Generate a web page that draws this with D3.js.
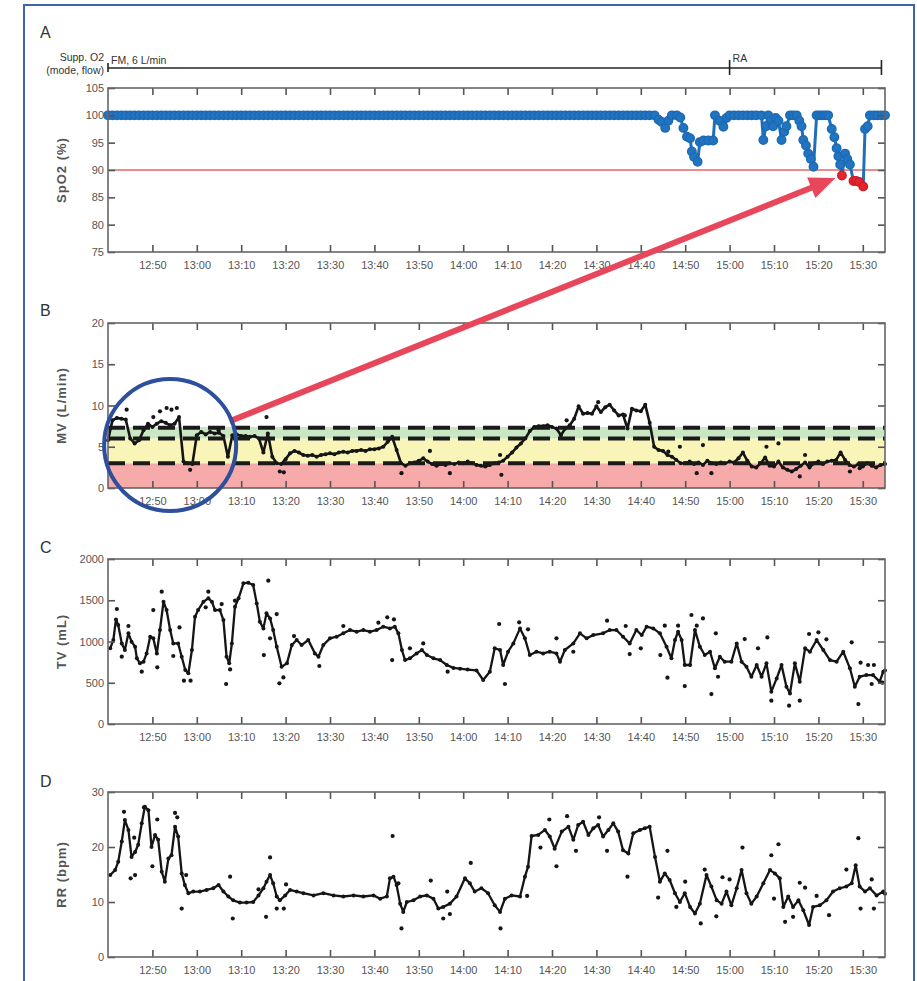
<!DOCTYPE html>
<html lang="en">
<head>
<meta charset="utf-8">
<title>SpO2 / MV / TV / RR</title>
<script src="https://d3js.org/d3.v7.min.js"></script>
<style>
  body { margin: 0; background: #fff; }
  svg { display: block; font-family: "Liberation Sans", Arial, sans-serif; }
  .frame { fill: none; stroke: #666; stroke-width: 1.6px; }
  .axis path { display: none; }
  .axis line { stroke: #555; stroke-width: 1.6px; }
  .axis text { fill: #555; font-size: 11px; }
  .ylab { fill: #555; font-weight: bold; font-size: 13px; letter-spacing: 1px; }
  .letter { fill: #333; font-size: 16px; }
  .o2 { fill: #333; font-size: 10.5px; }
</style>
</head>
<body>
<div id="chart"></div>
<script>

// ---------------------------//
//   DATA (minutes after 12:40)
// ---------------------------//

// supplemental O2 periods
var o2Modes = ["FM, 6 L/min", "RA"];
var o2Starts = [0, 140];
var o2End = 174.2;

// SpO2 readings [minute, %]
var spo2 = [
  [0,100],[1,100],[2,100],[3,100],[4,100],[5,100],[6,100],[7,100],[8,100],[9,100],
  [10,100],[11,100],[12,100],[13,100],[14,100],[15,100],[16,100],[17,100],[18,100],[19,100],
  [20,100],[21,100],[22,100],[23,100],[24,100],[25,100],[26,100],[27,100],[28,100],[29,100],
  [30,100],[31,100],[32,100],[33,100],[34,100],[35,100],[36,100],[37,100],[38,100],[39,100],
  [40,100],[41,100],[42,100],[43,100],[44,100],[45,100],[46,100],[47,100],[48,100],[49,100],
  [50,100],[51,100],[52,100],[53,100],[54,100],[55,100],[56,100],[57,100],[58,100],[59,100],
  [60,100],[61,100],[62,100],[63,100],[64,100],[65,100],[66,100],[67,100],[68,100],[69,100],
  [70,100],[71,100],[72,100],[73,100],[74,100],[75,100],[76,100],[77,100],[78,100],[79,100],
  [80,100],[81,100],[82,100],[83,100],[84,100],[85,100],[86,100],[87,100],[88,100],[89,100],
  [90,100],[91,100],[92,100],[93,100],[94,100],[95,100],[96,100],[97,100],[98,100],[99,100],
  [100,100],[101,100],[102,100],[103,100],[104,100],[105,100],[106,100],[107,100],[108,100],[109,100],
  [110,100],[111,100],[112,100],[113,100],[114,100],[115,100],[116,100],[117,100],[118,100],[119,100],
  [120,100],[121,100],[122,100],[123.1,100],[124,99.2],[124.7,98.8],[125.5,97.7],[126.2,99],[127,100],[128.1,100],
  [128.9,99.6],[129.6,97.7],[130.4,96.1],[131.1,95.8],[131.5,93.4],[132,92.4],[132.8,91.5],[133.3,95.1],[134.1,95.4],[135.2,95.4],
  [136.3,95.4],[136.7,100],[137.7,99],[138.6,97.9],[139.3,99.5],[140,100],[141,100],[142,100],[143,100],[144,100],
  [145,100],[146,100],[147.2,100],[147.6,95.5],[148.2,98],[148.7,100],[149.3,99],[149.8,98],[150.4,99.5],[151,99],
  [151.7,95.5],[152.3,97],[152.8,98],[153.6,100],[154.3,100],[155.1,100],[155.7,99],[156.2,98],[156.6,95.5],[157.2,94.5],
  [157.7,93],[158.3,92],[158.9,90.6],[159.6,100],[160.3,100],[161,100],[161.6,100],[162.2,100],[163,97.5],[163.6,96],
  [164.1,94],[164.5,92.5],[164.9,91],[165.3,89],[166,93],[166.5,92],[167.1,91],[167.9,88],[168.5,88],[169.2,87.8],
  [170.1,87],[170.5,97.5],[171.1,98],[171.6,100],[172.5,100],[173.3,100],[174.2,100],[175,100]
];
var spo2Limit = 90;

// minute ventilation, one value per minute (L/min)
var mv = [
  5.8, 8.2, 8.5, 8.4, 8.3, 6.0, 5.4, 5.8, 7.0, 7.8,
  7.4, 7.8, 8.1, 7.9, 7.6, 7.8, 8.6, 3.2, 3.0, 2.9,
  6.4, 6.8, 6.5, 6.8, 6.6, 6.7, 6.3, 3.8, 6.4, 6.5,
  6.3, 6.3, 6.2, 6.3, 6.0, 4.3, 6.6, 3.8, 3.0, 2.9,
  3.5, 4.2, 4.5, 4.3, 4.0, 3.9, 4.0, 3.8, 4.0, 4.1,
  4.2, 4.1, 4.3, 4.4, 4.3, 4.5, 4.5, 4.6, 4.5, 4.7,
  4.7, 4.8, 5.0, 5.6, 6.2, 4.6, 3.0, 2.7, 3.0, 3.1,
  3.3, 3.6, 3.2, 2.9, 2.7, 2.9, 2.8, 3.0, 2.9, 3.1,
  3.0, 3.2, 3.0, 2.8, 2.7, 2.6, 2.8, 3.0, 3.1, 3.3,
  3.8, 4.3, 4.9, 5.4, 6.0, 6.9, 7.4, 7.5, 7.5, 7.6,
  7.4, 7.2, 6.4, 7.2, 7.6, 8.4, 9.9, 9.0, 9.1, 9.0,
  9.9, 9.2, 9.8, 10.1, 9.4, 8.8, 8.9, 7.2, 9.6, 9.4,
  9.3, 10.1, 7.9, 5.0, 4.6, 4.5, 4.0, 3.8, 3.4, 3.0,
  3.0, 3.2, 2.9, 3.1, 2.8, 3.3, 3.0, 2.9, 3.1, 3.0,
  3.2, 3.1, 3.6, 4.3, 3.3, 2.6, 2.5, 3.0, 3.7, 2.7,
  2.6, 3.2, 2.5, 2.2, 2.0, 2.3, 2.7, 3.1, 2.5, 3.0,
  3.2, 2.9, 3.2, 3.3, 3.4, 4.3, 3.4, 2.8, 2.6, 2.9,
  2.6, 3.0, 2.7, 2.5, 2.8, 2.9
];
var mvDots = [[4.2,9.5],[10.2,8.6],[11.7,9.3],[13.2,9.7],[14.3,9.5],[15.5,9.7],[18.5,2.2],[24.9,7.0],
  [35.7,8.6],[38.7,2.0],[39.6,1.9],[66.1,1.8],[72.5,4.5],[77,1.8],[88.3,4.0],[88.6,1.6],[103.3,8.2],
  [110.4,10.4],[116.4,8.8],[126.2,4.4],[128.8,5.0],[132.6,1.8],[134,5.2],[135.9,1.8],[148.3,5.0],
  [151,5.4],[155.8,1.4],[157,4.0],[167.1,2.0],[169.3,2.4]];
var mvZones = [0, 3, 6, 7.4];
var mvLimits = [3, 6, 7.3];

// tidal volume [minute, mL]
var tvLine = [
  [0.5,917],[1.2,1018],[1.8,1268],[2.3,1200],[3.1,977],[3.8,897],[4.6,1099],[5.3,998],[6.1,937],[6.5,796],
  [7.2,735],[8.0,755],[8.7,856],[9.5,1058],[10.2,1038],[11.0,856],[11.7,1139],[12.5,1482],[13.2,1381],[14.0,1139],
  [14.7,977],[15.8,977],[16.6,816],[17.4,654],[18.1,614],[18.9,897],[19.6,1301],[20.3,1381],[21.5,1482],[22.6,1523],
  [23.4,1482],[24.1,1381],[25.2,1381],[26.0,1260],[26.7,816],[27.3,735],[27.9,977],[28.6,1422],[29.4,1523],[30.5,1705],
  [31.6,1713],[32.7,1684],[33.5,1462],[34.2,1240],[35.0,1159],[35.7,1341],[36.5,1280],[37.2,1139],[38.0,937],[39.1,695],
  [40.3,735],[41.4,957],[42.5,1018],[43.6,957],[45.1,1018],[46.6,856],[47.4,816],[48.5,957],[50.0,1038],[51.5,1058],
  [53.0,1099],[54.5,1139],[56.0,1119],[57.5,1139],[59.0,1119],[60.5,1139],[62.0,1179],[63.5,1159],[64.6,1179],[65.4,1099],
  [66.2,897],[66.9,775],[68.0,796],[69.5,856],[70.7,897],[71.8,836],[73.3,796],[74.8,775],[76.3,715],[77.8,680],
  [79.3,670],[81,660],[83,650],[84.5,533],[86,634],[87.1,917],[88.3,897],[89,715],[90.1,876],[91.3,977],
  [92.8,1159],[93.9,1038],[95,836],[96.5,876],[98,856],[99.5,876],[101,856],[101.8,755],[102.9,897],[104.8,977],
  [106.3,1099],[107.8,1038],[109.3,1078],[111.5,1099],[113,1139],[114.5,1139],[116,1058],[117.5,977],[119,1139],[120.2,1078],
  [121.3,1179],[122.8,1159],[124.3,1099],[125.8,937],[126.9,796],[127.7,1018],[128.4,1119],[129.2,1018],[129.9,715],[131.1,715],
  [132.2,1139],[133.3,937],[134.4,836],[135.6,876],[136.7,675],[137.8,816],[138.9,755],[140.4,755],[141.6,977],[142.7,755],
  [143.8,695],[144.9,573],[146.1,715],[147.2,573],[148.3,735],[149.4,392],[150.6,553],[151.7,715],[152.8,452],[153.6,371],
  [154.7,735],[155.8,513],[157,917],[158.1,876],[159.6,1018],[161.1,897],[162.6,775],[164.1,755],[165.6,876],[167.1,675],
  [168.2,452],[169.3,573],[170.8,593],[172.3,593],[173.8,513],[174.6,634],[175,650]
];
var tvDots = [[2.0,1394],[4.6,1188],[3.1,816],[7.6,634],[10.2,1381],[11.1,687],[12.1,1604],[14.7,824],[16.1,1171],
  [17.1,525],[18.6,525],[22.6,1604],[22.0,1414],[25.6,1454],[26.6,485],[27.5,662],[28.6,1495],[36.1,1737],[35.1,836],
  [36.5,1038],[38,1333],[38.6,493],[39.5,565],[41.9,1066],[47.6,703],[53,1188],[60.9,1228],[62.9,1293],[64.4,1268],
  [64,775],[68,917],[71,977],[76.5,634],[88.1,1212],[89.4,485],[92.6,1232],[94.6,1147],[101,1038],[104.8,876],
  [112.4,1252],[116.6,1188],[117.5,848],[120,917],[124.4,836],[125.4,1192],[126,561],[128.4,1192],[129.9,460],
  [131.4,1321],[132.6,1192],[134,1280],[135.9,363],[136.9,1099],[137.4,573],[143.4,1030],[146.4,917],[148.5,1050],
  [149.4,283],[153.4,222],[155.8,283],[157.9,1091],[160,1111],[161.8,1026],[167.5,990],[169,242],[169.5,743],
  [171.2,715],[172.5,715],[172,485],[174.4,501]];

// respiratory rate [minute, bpm]
var rrLine = [
  [0.5,14.9],[1.6,15.8],[2.3,17.3],[3.1,21],[3.8,24.9],[4.6,23.1],[5.3,18.2],[6.1,19.1],[6.8,20.4],[7.6,24.3],
  [8.3,27.3],[9.1,26.7],[9.8,20.0],[10.6,22.2],[11.3,21.3],[12.1,15.5],[12.8,13.7],[13.6,17.9],[14.3,18.5],[15.1,23.7],
  [15.8,21.9],[16.6,15.2],[17.3,13.1],[18.1,11.6],[19.2,11.9],[20.7,11.9],[22.2,12.2],[23.7,12.5],[24.9,13.1],[26.0,11.9],
  [27.1,11.0],[28.2,10.3],[29.7,9.9],[31.2,9.9],[32.7,10.0],[33.9,11.2],[35.0,12.5],[35.7,13.7],[36.5,14.9],[37.2,13.4],
  [38.0,11.0],[38.7,10.3],[39.9,11.2],[41.0,12.2],[42.5,11.9],[44.0,11.6],[46.3,11.2],[48.5,11.6],[50.8,11.2],[53.0,11.0],
  [55.3,11.2],[57.5,11.0],[59.8,11.2],[61.3,10.6],[62.8,11.0],[63.5,14.3],[64.3,14.6],[65.0,13.1],[65.8,9.7],[66.5,8.2],
  [67.3,10.0],[68.8,10.3],[70.3,11.0],[71.8,11.2],[73.3,10.6],[74.4,8.8],[75.5,9.1],[77.0,9.7],[78.5,11.0],[80.4,14.3],
  [81.5,13.4],[82.6,11.9],[84.1,12.5],[85.6,11.6],[87.1,9.4],[88.3,8.2],[89.4,10.6],[90.9,11.2],[92.8,11.0],[93.9,14.6],
  [94.6,16.4],[95.4,22.0],[96.9,22.2],[98.4,23.1],[99.5,21.9],[100.6,19.7],[102.2,22.8],[103.7,23.7],[104.8,21.3],[105.9,24.0],
  [107.0,24.6],[108.2,22.2],[109.3,23.4],[110.4,24.0],[111.5,21.9],[112.7,23.1],[113.8,24.3],[114.9,22.8],[116.0,19.4],[117.2,18.8],
  [118.3,22.5],[119.8,23.1],[120.9,23.4],[122.0,23.7],[123.2,18.2],[124.3,13.7],[125.4,15.2],[126.5,14.0],[127.7,11.6],[128.8,10.0],
  [129.9,11.6],[131.1,9.1],[132.2,7.9],[133.3,9.7],[134.8,14.9],[135.9,12.8],[137.1,10.3],[138.2,9.7],[139.3,11.9],[140.4,9.4],
  [141.6,12.5],[142.7,15.8],[143.8,11.6],[144.9,9.7],[146.1,11.0],[147.6,13.4],[149.1,15.8],[150.2,15.2],[151.3,14.3],[152.1,9.1],
  [153.2,11.0],[154.3,9.1],[155.5,10.3],[156.6,8.5],[157.9,5.8],[158.8,9.1],[160.3,9.4],[161.8,10.3],[163.3,11.9],[164.8,12.5],
  [166.3,12.8],[167.5,13.4],[168.4,16.7],[169.3,12.8],[170.5,11.9],[171.6,12.5],[173.1,11.2],[174.6,11.9],[175,11.5]
];
var rrDots = [[3.6,26.4],[5.9,21.7],[5.1,14.3],[6.1,14.9],[8.1,27.2],[10,16.5],[11.1,25],[15.1,26.2],[15.6,25.4],
  [17.6,14.9],[16.6,8.8],[27.5,14.6],[28.1,7.0],[33.9,12.3],[35.6,7.3],[36.5,18.1],[38,8.8],[39.6,8.8],[40.1,13.2],
  [64.1,22],[65.4,13.4],[66.1,5.2],[72.7,13.9],[75.5,7.0],[76.4,11.9],[77,7.8],[81.7,17.1],[88.4,5.2],[94.4,11.1],
  [97.4,19.9],[99.4,25],[101,16.5],[103.4,25.6],[105.4,19.3],[110.6,25.4],[112.4,19.3],[117,14.6],[126,19.3],
  [123.9,10.8],[128,9.1],[130,13.7],[133.5,6.1],[134.4,15.9],[137,7.4],[138.4,14.5],[140,14.1],[142.9,19.9],
  [149.4,18.5],[151,20.5],[150,10.6],[152.5,6.4],[154.3,7.3],[155.8,13.5],[157,12.6],[159.6,11.1],[162.4,7.6],
  [166.3,15.9],[169,21.6],[169.5,8.8],[172,14.1],[172.5,8.8]];

// annotation: circled MV region and the SpO2 reading it points to
var circleAt = [14, 5.2];
var arrowTo = [165.3, 89];

// ---------------------------//
//   LAYOUT AND SCALES
// ---------------------------//
var width = 917, height = 981;
var zoneColors = ["#f6aaaa", "#f9f5b8", "#c9e7c3"];

var panels = [
  { key: "A", top: 88,  bottom: 252, domain: [75, 105], ticks: [75, 80, 85, 90, 95, 100, 105], label: "SpO2 (%)",   letterY: 38 },
  { key: "B", top: 323, bottom: 488, domain: [0, 20],   ticks: [0, 5, 10, 15, 20],             label: "MV (L/min)", letterY: 316 },
  { key: "C", top: 559, bottom: 724, domain: [0, 2000], ticks: [0, 500, 1000, 1500, 2000],     label: "TV (mL)",    letterY: 553 },
  { key: "D", top: 792, bottom: 957, domain: [0, 30],   ticks: [0, 10, 20, 30],                label: "RR (bpm)",   letterY: 787 }
];

var start = new Date(2020, 0, 1, 12, 40);
var at = function(m) { return new Date(start.getTime() + m * 60000); };
var x = d3.scaleTime().domain([start, at(175)]).range([108, 885]);
var timeTicks = x.ticks(d3.timeMinute.every(10)).filter(function(d) { return d > start; });

panels.forEach(function(p) {
  p.y = d3.scaleLinear().domain(p.domain).range([p.bottom, p.top]);
});
var yA = panels[0].y, yB = panels[1].y, yC = panels[2].y, yD = panels[3].y;

var svg = d3.select("#chart")
  .append("svg")
    .attr("width", width)
    .attr("height", height);

// outer blue frame
svg.append("rect")
  .attr("x", 24).attr("y", 5)
  .attr("width", 890).attr("height", 1000)
  .attr("fill", "none")
  .attr("stroke", "#3f64ad")
  .attr("stroke-width", 2);

// ---------------------------//
//   PANEL B BACKGROUND ZONES
// ---------------------------//
svg.append("g")
  .selectAll("rect")
  .data(d3.range(mvZones.length - 1))
  .enter()
  .append("rect")
    .attr("x", x.range()[0])
    .attr("width", x.range()[1] - x.range()[0])
    .attr("y", function(i) { return yB(mvZones[i + 1]); })
    .attr("height", function(i) { return yB(mvZones[i]) - yB(mvZones[i + 1]); })
    .attr("fill", function(i) { return zoneColors[i]; });

// ---------------------------//
//   PANEL A : SpO2
// ---------------------------//
svg.append("line")
  .attr("x1", x.range()[0]).attr("x2", x.range()[1])
  .attr("y1", yA(spo2Limit)).attr("y2", yA(spo2Limit))
  .attr("stroke", "#f08a8a")
  .attr("stroke-width", 1.8);

svg.append("path")
  .datum(spo2)
  .attr("fill", "none")
  .attr("stroke", "#1f6fbb")
  .attr("stroke-width", 3)
  .attr("stroke-linejoin", "round")
  .attr("d", d3.line()
    .x(function(d) { return x(at(d[0])); })
    .y(function(d) { return yA(d[1]); }));

svg.append("g")
  .selectAll("circle")
  .data(spo2)
  .enter()
  .append("circle")
    .attr("cx", function(d) { return x(at(d[0])); })
    .attr("cy", function(d) { return yA(d[1]); })
    .attr("r", 4.2)
    .attr("fill", function(d) { return d[1] < spo2Limit ? "#e3262f" : "#2274c0"; })
    .attr("stroke", function(d) { return d[1] < spo2Limit ? "#d21d26" : "#1b6ab6"; })
    .attr("stroke-width", 1.5);

// supplemental O2 bracket
var bracketY = 68;
svg.append("line")
  .attr("x1", x(at(o2Starts[0]))).attr("x2", x(at(o2End)))
  .attr("y1", bracketY).attr("y2", bracketY)
  .attr("stroke", "#222").attr("stroke-width", 1.6);
svg.append("g")
  .selectAll("line")
  .data(o2Starts.concat([o2End]))
  .enter()
  .append("line")
    .attr("x1", function(d) { return x(at(d)); })
    .attr("x2", function(d) { return x(at(d)); })
    .attr("y1", function(d, i) { return i === 0 ? bracketY - 5 : bracketY - 8; })
    .attr("y2", function(d, i) { return i === 0 ? bracketY + 4 : bracketY + 7; })
    .attr("stroke", "#222").attr("stroke-width", 1.6);
svg.append("g")
  .selectAll("text")
  .data(o2Modes)
  .enter()
  .append("text")
    .attr("class", "o2")
    .attr("x", function(d, i) { return x(at(o2Starts[i])) + 3; })
    .attr("y", function(d, i) { return i === 0 ? bracketY - 4 : bracketY - 6; })
    .text(function(d) { return d; });
svg.append("text").attr("class", "o2")
  .attr("x", 104).attr("y", 61).attr("text-anchor", "end").text("Supp. O2");
svg.append("text").attr("class", "o2")
  .attr("x", 104).attr("y", 74).attr("text-anchor", "end").text("(mode, flow)");

// ---------------------------//
//   LINES WITH DOTS (B, C, D)
// ---------------------------//
function trace(data, y, dots, w) {
  var g = svg.append("g");
  g.append("path")
    .datum(data)
    .attr("fill", "none")
    .attr("stroke", "#151515")
    .attr("stroke-width", w)
    .attr("stroke-linejoin", "round")
    .attr("d", d3.line()
      .x(function(d) { return x(at(d[0])); })
      .y(function(d) { return y(d[1]); }));
  g.selectAll(".v")
    .data(data)
    .enter()
    .append("circle")
      .attr("cx", function(d) { return x(at(d[0])); })
      .attr("cy", function(d) { return y(d[1]); })
      .attr("r", 2)
      .attr("fill", "#151515");
  g.selectAll(".o")
    .data(dots)
    .enter()
    .append("circle")
      .attr("cx", function(d) { return x(at(d[0])); })
      .attr("cy", function(d) { return y(d[1]); })
      .attr("r", 2.1)
      .attr("fill", "#151515");
}

trace(mv.map(function(v, i) { return [i, v]; }), yB, mvDots, 2.6);
trace(tvLine, yC, tvDots, 2.3);
trace(rrLine, yD, rrDots, 2.3);

// MV dashed limits
svg.append("g")
  .selectAll("line")
  .data(mvLimits)
  .enter()
  .append("line")
    .attr("x1", x.range()[0]).attr("x2", x.range()[1])
    .attr("y1", function(d) { return yB(d); })
    .attr("y2", function(d) { return yB(d); })
    .attr("stroke", "#1a1a1a")
    .attr("stroke-width", 4)
    .attr("stroke-dasharray", "17,8");

// ---------------------------//
//   FRAMES AND AXES
// ---------------------------//
panels.forEach(function(p) {
  var g = svg.append("g");
  g.append("g").attr("class", "axis")
    .attr("transform", "translate(0," + p.bottom + ")")
    .call(d3.axisBottom(x).tickValues(timeTicks).tickFormat(d3.timeFormat("%H:%M"))
      .tickSizeInner(-7).tickSizeOuter(0).tickPadding(9));
  g.append("g").attr("class", "axis")
    .attr("transform", "translate(0," + p.top + ")")
    .call(d3.axisTop(x).tickValues(timeTicks).tickFormat("")
      .tickSizeInner(-7).tickSizeOuter(0));
  g.append("g").attr("class", "axis")
    .attr("transform", "translate(" + x.range()[0] + ",0)")
    .call(d3.axisLeft(p.y).tickValues(p.ticks).tickFormat(d3.format("d"))
      .tickSizeInner(-7).tickSizeOuter(0).tickPadding(4));
  g.append("g").attr("class", "axis")
    .attr("transform", "translate(" + x.range()[1] + ",0)")
    .call(d3.axisRight(p.y).tickValues(p.ticks).tickFormat("")
      .tickSizeInner(-7).tickSizeOuter(0));
  g.append("rect").attr("class", "frame")
    .attr("x", x.range()[0]).attr("y", p.top)
    .attr("width", x.range()[1] - x.range()[0])
    .attr("height", p.bottom - p.top);
  g.append("text").attr("class", "ylab")
    .attr("transform", "translate(66," + ((p.top + p.bottom) / 2) + ") rotate(-90)")
    .attr("text-anchor", "middle")
    .text(p.label);
  g.append("text").attr("class", "letter")
    .attr("x", 40).attr("y", p.letterY)
    .text(p.key);
});

// ---------------------------//
//   ANNOTATION
// ---------------------------//
var cx = x(at(circleAt[0])), cy = yB(circleAt[1]), cr = 66;
var tx = x(at(arrowTo[0])), ty = yA(arrowTo[1]);
var dx = tx - cx, dy = ty - cy, len = Math.sqrt(dx * dx + dy * dy);
var ux = dx / len, uy = dy / len;
var tipX = tx - ux * 7, tipY = ty - uy * 7;
var headL = 26, headW = 11;
var bx = tipX - ux * headL, by = tipY - uy * headL;

svg.append("line")
  .attr("x1", cx + ux * (cr - 2)).attr("y1", cy + uy * (cr - 2))
  .attr("x2", bx + ux * 2).attr("y2", by + uy * 2)
  .attr("stroke", "#e8475b")
  .attr("stroke-width", 6);
svg.append("path")
  .attr("d", "M" + tipX + "," + tipY +
    "L" + (bx - uy * headW) + "," + (by + ux * headW) +
    "L" + (bx + uy * headW) + "," + (by - ux * headW) + "Z")
  .attr("fill", "#e8475b");

svg.append("circle")
  .attr("cx", cx).attr("cy", cy).attr("r", cr)
  .attr("fill", "none")
  .attr("stroke", "#2d4f9d")
  .attr("stroke-width", 4);

</script>
</body>
</html>
